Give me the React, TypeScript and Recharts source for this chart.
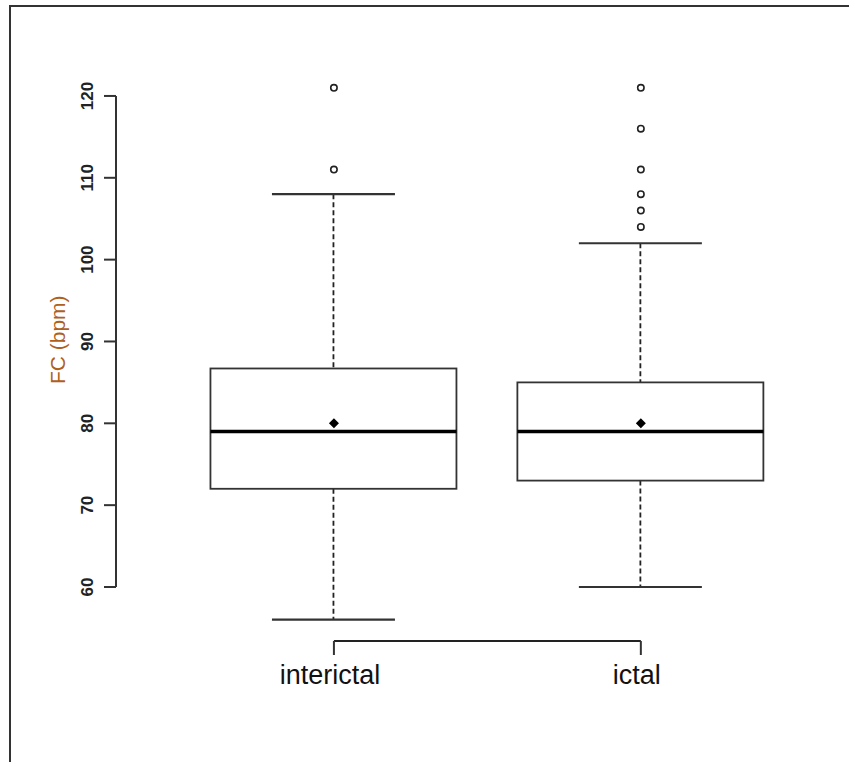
import React from 'react';
import { ComposedChart, Bar, Scatter, XAxis, YAxis, ReferenceLine } from 'recharts';

const groups = ['interictal', 'ictal'];
const positions = [1, 2];
const whiskerLow = [56, 60];
const q1 = [72, 73];
const median = [79, 79];
const q3 = [86.7, 85];
const whiskerHigh = [108, 102];
const means = [80, 80];
const outliers = [
  [121, 111],
  [121, 116, 111, 108, 106, 104],
];
const yTicks = [60, 70, 80, 90, 100, 110, 120];
const xDomain = [0.29, 2.6];
const yDomain = [53.4, 123.6];

const boxData = groups.map((g, i) => ({
  name: g,
  pos: positions[i],
  range: [whiskerLow[i], whiskerHigh[i]],
  low: whiskerLow[i],
  q1: q1[i],
  median: median[i],
  q3: q3[i],
  high: whiskerHigh[i],
}));

const outlierData = outliers.flatMap((vals, i) => vals.map((v) => ({ pos: positions[i], value: v })));
const meanData = means.map((m, i) => ({ pos: positions[i], value: m }));

const font = '"Liberation Sans", Arial, sans-serif';
const ink = '#222';

const BoxShape = (props: any) => {
  const { x, y, width, height, payload } = props;
  const top = Math.min(y, y + height);
  const h = Math.abs(height);
  const { low, high } = payload;
  const py = (v: number) => top + (h * (high - v)) / (high - low);
  const cx = x + width / 2;
  const cap = width / 4;
  return (
    <g>
      <line x1={cx} x2={cx} y1={py(high)} y2={py(payload.q3)} stroke={ink} strokeWidth={1.8} strokeDasharray="5 3" />
      <line x1={cx} x2={cx} y1={py(payload.q1)} y2={py(low)} stroke={ink} strokeWidth={1.8} strokeDasharray="5 3" />
      <line x1={cx - cap} x2={cx + cap} y1={py(high)} y2={py(high)} stroke="#333" strokeWidth={2.2} />
      <line x1={cx - cap} x2={cx + cap} y1={py(low)} y2={py(low)} stroke="#333" strokeWidth={2.2} />
      <rect x={x} y={py(payload.q3)} width={width} height={py(payload.q1) - py(payload.q3)} fill="#fff" stroke="#333" strokeWidth={1.8} />
      <line x1={x} x2={x + width} y1={py(payload.median)} y2={py(payload.median)} stroke="#000" strokeWidth={3.5} />
    </g>
  );
};

const OutlierShape = (props: any) => (
  <circle cx={props.cx} cy={props.cy} r={3.2} fill="#fff" stroke={ink} strokeWidth={1.6} />
);

const MeanShape = (props: any) => {
  const { cx, cy } = props;
  const r = 5;
  return <path d={`M${cx},${cy - r} L${cx + r},${cy} L${cx},${cy + r} L${cx - r},${cy} Z`} fill="#000" />;
};

const YTick = (props: any) => {
  const { x, y, payload } = props;
  return (
    <text
      x={x}
      y={y}
      transform={`rotate(-90 ${x} ${y})`}
      textAnchor="middle"
      dominantBaseline="central"
      fontFamily={font}
      fontSize={17}
      fontWeight="bold"
      fill={ink}
    >
      {payload.value}
    </text>
  );
};

const XTick = (props: any) => {
  const { x, y, payload } = props;
  const idx = positions.indexOf(payload.value);
  return (
    <text x={x - 4} y={y} dy={27} textAnchor="middle" fontFamily={font} fontSize={27} fill="#111">
      {groups[idx]}
    </text>
  );
};

const YLabel = (props: any) => {
  const vb = props.viewBox;
  const cx = vb.x + 1;
  const cy = vb.y + vb.height / 2 - 14;
  return (
    <text
      x={cx}
      y={cy}
      transform={`rotate(-90 ${cx} ${cy})`}
      textAnchor="middle"
      dominantBaseline="central"
      fontFamily={font}
      fontSize={21}
      fill="#b0601c"
    >
      FC (bpm)
    </text>
  );
};

const App: React.FC = () => {
  return (
    <div style={{ position: 'absolute', left: 0, top: 0, width: 849, height: 762, background: '#fff', overflow: 'hidden' }}>
      <div
        style={{
          position: 'absolute',
          left: 9,
          top: 5,
          width: 860,
          height: 800,
          borderTop: '2px solid #333',
          borderLeft: '2px solid #333',
        }}
      />
      <div style={{ position: 'absolute', left: 0, top: 0 }}>
        <ComposedChart
          width={849}
          height={762}
          data={boxData}
          margin={{ top: 66.5, right: 24, left: 56, bottom: 61 }}
        >
          <XAxis
            dataKey="pos"
            type="number"
            domain={xDomain}
            ticks={positions}
            interval={0}
            allowDataOverflow
            height={60}
            axisLine={false}
            tickLine={{ stroke: '#333', strokeWidth: 2 }}
            tickSize={14}
            tickMargin={2}
            tick={<XTick />}
          />
          <YAxis
            dataKey="value"
            type="number"
            domain={yDomain}
            ticks={yTicks}
            interval={0}
            allowDataOverflow
            width={60}
            axisLine={false}
            tickLine={{ stroke: '#333', strokeWidth: 2 }}
            tickSize={12}
            tickMargin={16}
            tick={<YTick />}
            label={<YLabel />}
          />
          <ReferenceLine
            segment={[{ x: xDomain[0], y: yTicks[0] }, { x: xDomain[0], y: yTicks[yTicks.length - 1] }]}
            stroke="#333"
            strokeWidth={2}
            ifOverflow="visible"
          />
          <ReferenceLine
            segment={[{ x: positions[0], y: yDomain[0] }, { x: positions[positions.length - 1], y: yDomain[0] }]}
            stroke="#222"
            strokeWidth={2}
            ifOverflow="visible"
          />
          <Bar dataKey="range" barSize={246} shape={<BoxShape />} isAnimationActive={false} />
          <Scatter data={meanData} shape={<MeanShape />} isAnimationActive={false} />
          <Scatter data={outlierData} shape={<OutlierShape />} isAnimationActive={false} />
        </ComposedChart>
      </div>
    </div>
  );
};

export default App;
